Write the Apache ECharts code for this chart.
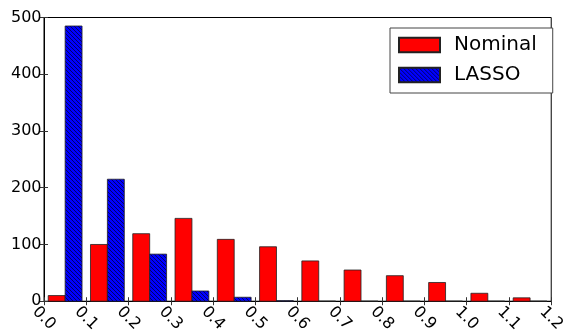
<!DOCTYPE html>
<html>
<head>
<meta charset="utf-8">
<script src="https://cdn.jsdelivr.net/npm/echarts@6/dist/echarts.min.js"></script>
<style>
  html, body { margin: 0; padding: 0; background: #fff; }
  #chart { width: 568px; height: 335px; }
</style>
</head>
<body>
<div id="chart"></div>
<script>
// Histogram bin edges (also the x tick labels)
const binEdges = [0.0, 0.1, 0.2, 0.3, 0.4, 0.5, 0.6, 0.7, 0.8, 0.9, 1.0, 1.1, 1.2];
// Counts per bin
const nominalCounts = [10, 100, 119, 146, 109, 96, 71, 55, 45, 33, 14, 6];
const lassoCounts = [485, 215, 83, 18, 7, 1, 0, 0, 0, 0, 0, 0];
const yTicks = [0, 100, 200, 300, 400, 500];

const FONT = 'DejaVu Sans';

// Diagonal hatch fill for the LASSO bars
function hatchPattern() {
  const s = 4;
  const c = document.createElement('canvas');
  c.width = s; c.height = s;
  const ctx = c.getContext('2d');
  ctx.fillStyle = '#0000ff';
  ctx.fillRect(0, 0, s, s);
  ctx.strokeStyle = '#000066';
  ctx.lineWidth = 1;
  for (const x0 of [-s, 0, s]) {
    ctx.beginPath();
    ctx.moveTo(x0 - 1, -1);
    ctx.lineTo(x0 + s + 1, s + 1);
    ctx.stroke();
  }
  return { image: c, repeat: 'repeat' };
}
const hatch = hatchPattern();

// Each bin holds two side-by-side bars, each 40% of the bin width
function binData(counts) {
  return counts.map((v, i) => [binEdges[i], binEdges[i + 1], v]);
}

function makeRender(offset, fill) {
  return function (params, api) {
    const x0 = api.value(0), x1 = api.value(1), v = api.value(2);
    const w = x1 - x0;
    const a = x0 + w * (0.1 + offset);
    const b = a + w * 0.4;
    const p0 = api.coord([a, v]);
    const p1 = api.coord([b, 0]);
    return {
      type: 'rect',
      shape: { x: p0[0], y: p0[1], width: p1[0] - p0[0], height: p1[1] - p0[1] },
      style: { fill: fill, stroke: '#222', lineWidth: 0.8 }
    };
  };
}

const tickStyle = { show: true, inside: true, length: 4, lineStyle: { color: '#333', width: 1 } };

const chart = echarts.init(document.getElementById('chart'), null, { renderer: 'canvas' });
chart.setOption({
  animation: false,
  backgroundColor: '#fff',
  grid: { left: 44, top: 17.5, right: 16, bottom: 31, show: true, borderColor: '#000', borderWidth: 1, backgroundColor: 'transparent' },
  legend: {
    left: 390, top: 28,
    orient: 'vertical',
    icon: 'rect',
    itemWidth: 41, itemHeight: 14.5, itemGap: 10,
    padding: [7, 16, 8, 8],
    borderColor: '#444', borderWidth: 1,
    backgroundColor: '#fff',
    textStyle: { fontFamily: FONT, fontSize: 20, color: '#000', padding: [0, 0, 0, 9] },
    data: ['Nominal', 'LASSO']
  },
  xAxis: [{
    type: 'value', min: binEdges[0], max: binEdges[binEdges.length - 1], interval: 0.1,
    axisLine: { show: true, onZero: false, lineStyle: { color: '#000' } },
    axisTick: tickStyle,
    splitLine: { show: false },
    axisLabel: {
      rotate: -45, align: 'center', verticalAlign: 'middle', margin: 17,
      fontFamily: FONT, fontSize: 16, color: '#000',
      formatter: v => v.toFixed(1)
    }
  }, {
    type: 'value', position: 'top', min: binEdges[0], max: binEdges[binEdges.length - 1], interval: 0.1,
    axisLine: { show: false }, axisTick: tickStyle, axisLabel: { show: false }, splitLine: { show: false }
  }],
  yAxis: [{
    type: 'value', min: yTicks[0], max: yTicks[yTicks.length - 1], interval: 100,
    axisLine: { show: true, lineStyle: { color: '#000' } },
    axisTick: tickStyle,
    splitLine: { show: false },
    axisLabel: { margin: 2.5, fontFamily: FONT, fontSize: 16, color: '#000' }
  }, {
    type: 'value', position: 'right', min: yTicks[0], max: yTicks[yTicks.length - 1], interval: 100,
    axisLine: { show: false }, axisTick: tickStyle, axisLabel: { show: false }, splitLine: { show: false }
  }],
  series: [{
    name: 'Nominal', type: 'custom',
    itemStyle: { color: '#ff0000', borderColor: '#222', borderWidth: 0.8 },
    renderItem: makeRender(0, '#ff0000'),
    encode: { x: [0, 1], y: 2 },
    data: binData(nominalCounts)
  }, {
    name: 'LASSO', type: 'custom',
    itemStyle: { color: hatch, borderColor: '#222', borderWidth: 0.8 },
    renderItem: makeRender(0.4, hatch),
    encode: { x: [0, 1], y: 2 },
    data: binData(lassoCounts)
  }]
});
</script>
</body>
</html>
